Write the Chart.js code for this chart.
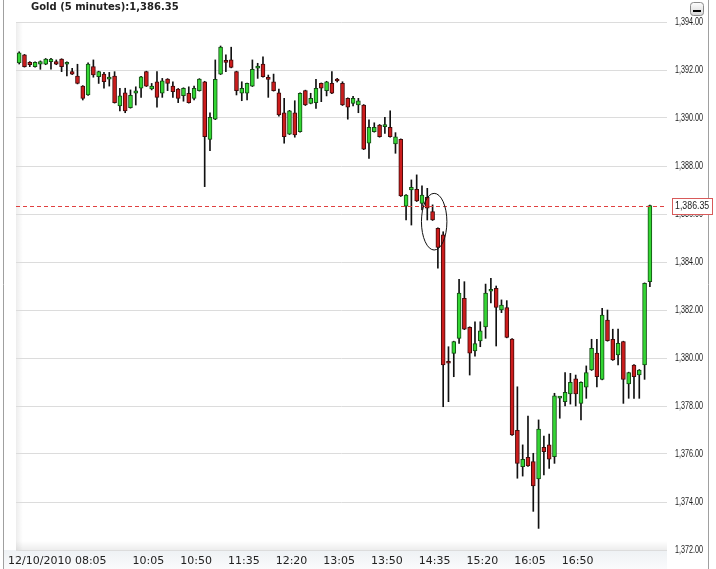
<!DOCTYPE html>
<html>
<head>
<meta charset="utf-8">
<script src="https://cdn.jsdelivr.net/npm/chart.js@4.4.0/dist/chart.umd.min.js"></script>
<style>
  html, body { margin: 0; padding: 0; background: #fff; }
  #wrap { width: 716px; height: 569px; }
</style>
</head>
<body>
<div id="wrap"><canvas id="chart" width="716" height="569"></canvas></div>
<script>
// Gold, 5 minute candles, 12/10/2010 08:05 onwards
const title = 'Gold (5 minutes):1,386.35';

const open = [
  1392.30,1392.63,1392.32,1392.14,1392.24,1392.24,1392.35,1392.35,1392.45,1392.24,
  1391.93,1391.75,1391.33,1390.96,1392.14,1391.72,1391.83,1391.62,1391.75,1390.50,
  1391.05,1390.43,1391.03,1391.24,1391.93,1391.21,1391.51,1391.03,1391.62,1391.33,
  1391.21,1390.93,1391.03,1390.82,1391.14,1391.51,1389.11,1389.95,1391.83,1392.34,
  1392.42,1391.93,1391.03,1391.03,1391.33,1392.08,1392.25,1391.65,1391.51,1391.05,
  1390.22,1389.33,1390.22,1389.43,1391.14,1390.61,1390.64,1391.44,1391.14,1391.44,
  1391.61,1391.44,1390.82,1390.61,1390.54,1390.54,1388.95,1389.43,1389.71,1389.64,
  1389.61,1388.92,1389.11,1386.33,1387.00,1387.03,1386.44,1386.69,1386.10,1385.40,
  1385.13,1379.81,1380.19,1380.82,1382.49,1381.28,1380.30,1380.71,1381.30,1382.78,
  1382.90,1382.00,1382.10,1380.79,1376.99,1375.47,1375.86,1375.68,1374.96,1376.28,
  1376.38,1375.89,1378.33,1378.18,1378.50,1379.13,1378.11,1378.78,1379.50,1380.20,
  1379.11,1381.58,1380.78,1380.13,1380.68,1378.92,1379.71,1379.29,1379.71,1383.18
];
const high = [
  1392.76,1392.65,1392.35,1392.34,1392.38,1392.48,1392.49,1392.42,1392.47,1392.34,
  1392.07,1392.24,1391.35,1392.30,1392.42,1391.95,1391.90,1391.90,1391.93,1391.24,
  1391.24,1391.17,1391.30,1391.74,1391.95,1391.44,1391.93,1391.65,1391.64,1391.51,
  1391.23,1391.26,1391.30,1391.33,1391.64,1391.53,1390.22,1392.42,1393.00,1392.63,
  1392.95,1391.95,1391.51,1391.46,1392.42,1392.28,1392.55,1391.79,1391.83,1391.20,
  1390.82,1390.32,1390.72,1391.05,1391.16,1391.03,1391.61,1391.46,1391.53,1391.93,
  1391.65,1391.51,1390.84,1390.90,1390.82,1390.56,1389.92,1389.80,1389.73,1390.03,
  1390.30,1389.39,1389.13,1386.81,1387.42,1387.63,1387.17,1387.07,1386.38,1385.42,
  1385.26,1380.47,1380.70,1383.28,1383.18,1381.30,1381.51,1381.51,1383.08,1383.32,
  1383.00,1382.42,1382.39,1380.81,1378.80,1376.38,1377.58,1376.03,1377.42,1376.75,
  1376.83,1378.53,1378.39,1379.39,1379.36,1379.29,1379.01,1379.67,1380.78,1380.78,
  1382.07,1382.00,1381.20,1381.20,1380.70,1379.41,1379.73,1379.52,1383.13,1386.37
];
const low = [
  1392.25,1392.12,1392.14,1392.12,1392.03,1392.22,1392.03,1392.22,1391.93,1391.75,
  1391.81,1391.42,1390.75,1390.94,1391.70,1391.44,1391.24,1391.33,1390.62,1390.30,
  1390.22,1390.41,1390.54,1390.86,1391.31,1391.17,1390.45,1390.86,1391.14,1390.86,
  1390.64,1390.70,1390.62,1390.75,1391.12,1387.14,1388.64,1389.93,1391.81,1391.93,
  1392.09,1390.96,1390.72,1390.75,1391.31,1391.65,1391.70,1390.86,1391.12,1390.08,
  1388.95,1389.31,1389.20,1389.41,1390.52,1390.59,1390.40,1390.68,1390.92,1391.01,
  1391.50,1390.52,1389.95,1390.50,1390.22,1388.68,1388.32,1389.41,1389.20,1389.36,
  1389.20,1388.53,1386.73,1385.75,1385.54,1386.52,1386.17,1385.75,1385.73,1383.74,
  1377.97,1378.18,1379.22,1380.61,1381.18,1379.29,1380.08,1380.47,1380.82,1382.30,
  1380.50,1381.89,1380.84,1376.77,1374.99,1375.08,1375.48,1373.61,1372.90,1375.13,
  1375.40,1375.61,1377.49,1378.00,1378.08,1378.00,1377.42,1378.32,1379.48,1378.80,
  1379.09,1380.70,1379.90,1379.71,1378.11,1378.32,1378.32,1378.32,1379.11,1382.97
];
const close = [
  1392.72,1392.14,1392.22,1392.32,1392.35,1392.45,1392.45,1392.24,1392.14,1392.32,
  1391.83,1391.44,1390.82,1392.25,1391.79,1391.93,1391.51,1391.65,1390.64,1390.92,
  1390.30,1390.94,1391.13,1391.72,1391.33,1391.33,1390.86,1391.55,1391.44,1391.10,
  1390.82,1391.24,1390.64,1391.24,1391.62,1389.22,1390.03,1391.61,1392.95,1392.32,
  1392.11,1391.14,1391.24,1391.44,1392.03,1392.11,1391.72,1391.61,1391.14,1390.13,
  1389.22,1390.30,1389.29,1391.03,1390.54,1390.82,1391.24,1391.24,1391.51,1391.03,
  1391.54,1390.54,1390.45,1390.82,1390.72,1388.70,1389.61,1389.61,1389.22,1389.71,
  1389.22,1389.22,1386.75,1386.79,1387.11,1386.54,1386.79,1386.24,1385.75,1384.61,
  1379.71,1379.78,1380.68,1382.70,1381.20,1380.20,1380.60,1381.13,1382.70,1382.80,
  1382.11,1382.21,1380.86,1376.79,1375.61,1375.78,1375.50,1374.67,1377.04,1376.10,
  1375.78,1378.42,1378.35,1378.57,1378.99,1378.50,1378.99,1379.39,1380.40,1379.22,
  1381.79,1380.72,1379.92,1380.61,1379.11,1379.39,1379.22,1379.50,1383.11,1386.35
];

// x tick labels and the candle index they sit on
const tickIndex = [0, 24, 33, 42, 51, 60, 69, 78, 87, 96, 105];
const tickLabels = ['12/10/2010 08:05', '10:05', '10:50', '11:35', '12:20', '13:05',
                    '13:50', '14:35', '15:20', '16:05', '16:50'];

const yMin = 1372, yMax = 1394, yStep = 2;
const lastPrice = close[close.length - 1];

// hand drawn ring around the candles near 14:35 (candle index / price units)
const ring = { x: 78.3, y: 1385.68, rx: 2.4, ry: 1.18 };

const fmt = v => v.toLocaleString('en-US', { minimumFractionDigits: 2, maximumFractionDigits: 2 });

const up = open.map((o, i) => close[i] >= o);
const bodyFill = up.map(u => u ? '#33d633' : '#cc1c1c');
const bodyLine = up.map(u => u ? '#144d14' : '#420b0b');

// narrow text: the price labels in the original are squeezed
function narrowText(ctx, text, x, y, squeeze) {
  ctx.save();
  ctx.translate(x, y);
  ctx.scale(squeeze, 1);
  ctx.fillText(text, 0, 0);
  ctx.restore();
}

const frame = {
  id: 'frame',
  beforeDraw(chart) {
    const { ctx, chartArea: a } = chart;
    ctx.save();
    ctx.fillStyle = '#fff';
    ctx.fillRect(0, 0, chart.width, chart.height);
    // strip behind time labels
    let g = ctx.createLinearGradient(0, a.bottom, 0, chart.height);
    g.addColorStop(0, '#eef1f4');
    g.addColorStop(1, '#fafbfc');
    ctx.fillStyle = g;
    ctx.fillRect(4, a.bottom, a.right - 4, chart.height - a.bottom);
    // soft inner shadow on the left and bottom of the plot
    g = ctx.createLinearGradient(a.left, 0, a.left + 7, 0);
    g.addColorStop(0, 'rgba(0,0,0,0.07)');
    g.addColorStop(1, 'rgba(0,0,0,0)');
    ctx.fillStyle = g;
    ctx.fillRect(a.left, a.top, 7, a.bottom - a.top);
    g = ctx.createLinearGradient(0, a.bottom - 9, 0, a.bottom);
    g.addColorStop(0, 'rgba(0,0,0,0)');
    g.addColorStop(1, 'rgba(0,0,0,0.07)');
    ctx.fillStyle = g;
    ctx.fillRect(a.left, a.bottom - 9, a.right - a.left, 9);
    ctx.restore();
  },
  afterDatasetsDraw(chart) {
    const { ctx, chartArea: a, scales: { x, y } } = chart;
    ctx.save();
    // last price line
    const py = y.getPixelForValue(lastPrice);
    ctx.strokeStyle = '#e04040';
    ctx.lineWidth = 1;
    ctx.setLineDash([4, 3]);
    ctx.beginPath();
    ctx.moveTo(a.left, Math.round(py) + 0.5);
    ctx.lineTo(a.right, Math.round(py) + 0.5);
    ctx.stroke();
    ctx.setLineDash([]);
    // ring
    const cx = x.getPixelForValue(ring.x), cy = y.getPixelForValue(ring.y);
    const rx = x.getPixelForValue(ring.x + ring.rx) - cx;
    const ry = cy - y.getPixelForValue(ring.y + ring.ry);
    ctx.strokeStyle = '#111';
    ctx.beginPath();
    ctx.ellipse(cx, cy, rx, ry, 0, 0, Math.PI * 2);
    ctx.stroke();
    ctx.restore();
  },
  afterDraw(chart) {
    const { ctx, chartArea: a, scales: { x, y } } = chart;
    ctx.save();
    // outer frame lines
    ctx.strokeStyle = '#a0a0a0';
    ctx.lineWidth = 1;
    ctx.beginPath();
    ctx.moveTo(3.5, 0); ctx.lineTo(3.5, chart.height);
    ctx.moveTo(708.5, 0); ctx.lineTo(708.5, chart.height);
    ctx.stroke();
    // minimise button
    const g = ctx.createLinearGradient(0, 2, 0, 15);
    g.addColorStop(0, '#ffffff');
    g.addColorStop(1, '#d8d8d8');
    ctx.fillStyle = g;
    ctx.strokeStyle = '#8a8a8a';
    ctx.beginPath();
    ctx.roundRect(690.5, 2.5, 13, 13, 3);
    ctx.fill();
    ctx.stroke();
    ctx.fillStyle = '#000';
    ctx.fillRect(693, 10, 8, 2);
    // title
    ctx.fillStyle = '#222';
    ctx.font = 'bold 10px "DejaVu Sans"';
    ctx.textBaseline = 'middle';
    ctx.textAlign = 'left';
    ctx.fillText(title, 31, 7.5);
    // time labels
    ctx.font = '11px "DejaVu Sans"';
    ctx.fillStyle = '#222';
    tickIndex.forEach((idx, k) => {
      if (k === 0) {
        ctx.textAlign = 'left';
        ctx.fillText(tickLabels[k], 8, 561);
      } else {
        ctx.textAlign = 'center';
        ctx.fillText(tickLabels[k], x.getPixelForValue(idx) + 2, 561);
      }
    });
    // price labels, taken from the y scale's own ticks
    ctx.font = '10px "Liberation Sans"';
    ctx.fillStyle = '#1a1a1a';
    ctx.textAlign = 'left';
    y.ticks.forEach(t => {
      narrowText(ctx, fmt(t.value), a.right + 8, y.getPixelForValue(t.value), 0.72);
    });
    // last price tag
    const py = Math.round(y.getPixelForValue(lastPrice));
    ctx.fillStyle = '#fff';
    ctx.strokeStyle = '#d85a5a';
    ctx.fillRect(672.5, py - 7.5, 40, 16);
    ctx.strokeRect(672.5, py - 7.5, 40, 16);
    ctx.fillStyle = '#222';
    ctx.font = '10px "Liberation Sans"';
    narrowText(ctx, fmt(lastPrice), 675, py + 0.5, 0.88);
    ctx.restore();
  }
};

const idx = open.map((_, i) => i);

new Chart(document.getElementById('chart'), {
  type: 'bar',
  data: {
    datasets: [
      {
        label: 'range',
        data: idx.map(i => ({ x: i, y: [low[i], high[i]] })),
        backgroundColor: '#111',
        barThickness: 1,
        grouped: false,
        order: 2
      },
      {
        label: 'body',
        data: idx.map(i => ({ x: i, y: [open[i], close[i]] })),
        backgroundColor: bodyFill,
        borderColor: bodyLine,
        borderWidth: 1,
        borderSkipped: false,
        barThickness: 4,
        minBarLength: 2,
        grouped: false,
        order: 1
      }
    ]
  },
  options: {
    responsive: false,
    animation: false,
    layout: { padding: { top: 22, left: 16, right: 7, bottom: 19 } },
    plugins: {
      legend: { display: false },
      tooltip: { enabled: false },
      title: { display: false }
    },
    scales: {
      x: {
        type: 'linear',
        offset: false,
        min: -0.6,
        max: 122.23,
        afterFit: s => { s.height = 0; },
        border: { display: false },
        grid: { display: false },
        ticks: { display: false }
      },
      y: {
        position: 'right',
        min: yMin,
        max: yMax,
        afterFit: s => { s.width = 42; },
        border: { display: false },
        grid: { color: '#dcdcdc', drawTicks: false, lineWidth: 1 },
        ticks: { stepSize: yStep, display: false }
      }
    }
  },
  plugins: [frame]
});
</script>
</body>
</html>
